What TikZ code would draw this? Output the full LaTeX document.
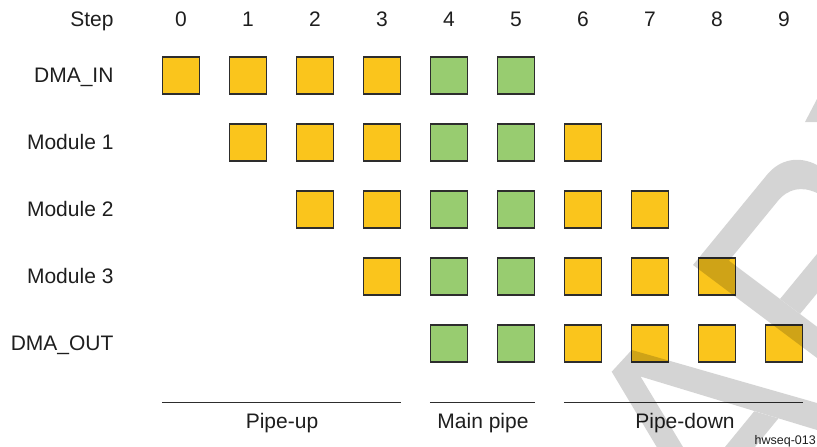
\documentclass[tikz,border=0pt]{standalone}
\usepackage{fontspec}
\setmainfont{Liberation Sans}
\definecolor{stageyellow}{RGB}{250,197,28}
\definecolor{stagegreen}{RGB}{152,204,112}
\definecolor{edgegrey}{RGB}{45,45,45}
\definecolor{textgrey}{RGB}{30,30,30}
\begin{document}
\begin{tikzpicture}[x=1pt, y=-1pt,
    every node/.style={font=\fontsize{21}{25}\selectfont, text=textgrey},
    slot/.style={draw=edgegrey, line width=1.4pt, minimum size=37pt, inner sep=0pt},
    phase/.style={draw=edgegrey, line width=1pt}]
    \useasboundingbox (0,0) rectangle (817,447);

    % header row
    \node[anchor=base east] (steplab) at (117,26) {Step};
    \foreach \c in {0,...,9}
        \node[anchor=base] (step-\c) at (181+67*\c,26) {\c};

    % one row per unit, six slots each
    \foreach \r/\name/\txt in {0/dmain/DMA\_IN, 1/modA/Module 1, 2/modB/Module 2, 3/modC/Module 3, 4/dmaout/DMA\_OUT} {
        \node[anchor=base east] (\name) at (117,82+67*\r) {\txt};
        \foreach \k in {0,...,5} {
            \pgfmathtruncatemacro{\c}{\r+\k}
            \ifnum\c=4 \def\slotcol{stagegreen}\else\ifnum\c=5 \def\slotcol{stagegreen}\else\def\slotcol{stageyellow}\fi\fi
            \node[slot, fill=\slotcol] (\name-\c) at (181+67*\c,75.5+67*\r) {};
        }
    }

    % phases
    \coordinate (upL) at (dmain-0.west |- 0,402);
    \coordinate (upR) at (dmain-3.east |- 0,402);
    \coordinate (mainL) at (dmain-4.west |- 0,402);
    \coordinate (mainR) at (dmain-5.east |- 0,402);
    \coordinate (downL) at (dmaout-6.west |- 0,402);
    \coordinate (downR) at (dmaout-9.east |- 0,402);
    \draw[phase] (upL) -- (upR);
    \draw[phase] (mainL) -- (mainR);
    \draw[phase] (downL) -- (downR);
    \node[anchor=base] (pipeup) at (282,428.5) {Pipe-up};
    \node[anchor=base] (mainpipe) at (483,428.5) {Main pipe};
    \node[anchor=base] (pipedown) at (685,428.5) {Pipe-down};
    \node[anchor=base east, inner xsep=1pt, font=\fontsize{12.5}{15}\selectfont] (figid) at (817,444) {hwseq-013};

    % watermark
    \begin{scope}[transparency group, opacity=0.17]
        \fill[black] (693,265) -- (766,176) .. controls (780,158) and (800,156) .. (817,165) -- (817,193) .. controls (802,186) and (788,188) .. (777,202) -- (729,260.7) -- (817,326.75) -- (817,358) -- cycle;
        \fill[black] (780,299) -- (817,254) -- (817,293.4) -- (800,314) -- cycle;
        \fill[black] (805,122) -- (817,99) -- (817,122) -- cycle;
        \fill[black] (656.7,447) -- (611.7,371.7) -- (631.7,350) -- (817,403) -- (817,430) -- (640.5,376.5) -- (683,447) -- cycle;
        \fill[black] (725,447) -- (754.3,411.2) -- (778.4,418.4) -- (755,447) -- cycle;
    \end{scope}
\end{tikzpicture}
\end{document}
